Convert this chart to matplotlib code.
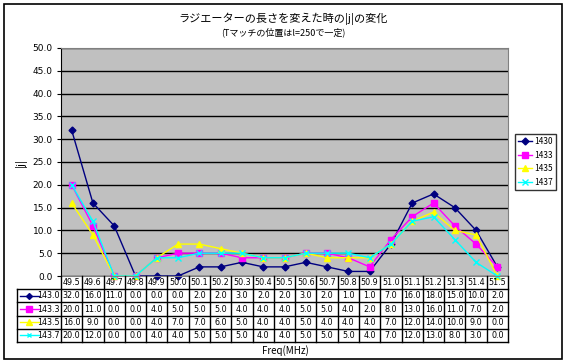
import matplotlib
matplotlib.use("Agg")
import matplotlib.pyplot as plt
from matplotlib.patches import Rectangle

plt.rcParams["font.family"] = ["Noto Sans CJK JP", "DejaVu Sans"]

freqs = ["49.5", "49.6", "49.7", "49.8", "49.9", "50.0", "50.1", "50.2", "50.3", "50.4", "50.5",
         "50.6", "50.7", "50.8", "50.9", "51.0", "51.1", "51.2", "51.3", "51.4", "51.5"]
j_1430 = [32, 16, 11, 0, 0, 0, 2, 2, 3, 2, 2, 3, 2, 1, 1, 7, 16, 18, 15, 10, 2]
j_1433 = [20, 11, 0, 0, 4, 5, 5, 5, 4, 4, 4, 5, 5, 4, 2, 8, 13, 16, 11, 7, 2]
j_1435 = [16, 9, 0, 0, 4, 7, 7, 6, 5, 4, 4, 5, 4, 4, 4, 7, 12, 14, 10, 9, 0]
j_1437 = [20, 12, 0, 0, 4, 4, 5, 5, 5, 4, 4, 5, 5, 5, 4, 7, 12, 13, 8, 3, 0]
legend_labels = ["1430", "1433", "1435", "1437"]
row_labels = ["143.0", "143.3", "143.5", "143.7"]

series = [j_1430, j_1433, j_1435, j_1437]
colors = ["#000080", "#FF00FF", "#FFFF00", "#00FFFF"]
markers = ["D", "s", "^", "x"]
msizes = [3.5, 4.5, 5, 4]

W, H = 567, 364
fig = plt.figure(figsize=(W / 100, H / 100), dpi=100)

def fx(px):
    return px / W

def fy(py):
    return 1 - py / H

# outer chart border
fig.patches.append(Rectangle((fx(4), fy(359)), fx(558), (359 - 4) / H, transform=fig.transFigure,
                             fill=False, edgecolor="black", linewidth=1.2))

left, right, top, bottom = 61, 508, 48, 276
ax = fig.add_axes([fx(left), fy(bottom), fx(right - left), (bottom - top) / H])
ax.set_facecolor("#C0C0C0")
n = len(freqs)
x = list(range(n))
lines = []
for vals, c, m, ms, lab in zip(series, colors, markers, msizes, legend_labels):
    ln, = ax.plot(x, vals, color=c, marker=m, markersize=ms, linewidth=1, label=lab,
                  markeredgewidth=1, clip_on=False)
    lines.append(ln)

ax.set_xlim(-0.5, n - 0.5)
ax.set_ylim(0, 50)
ax.set_yticks(range(0, 51, 5))
ax.set_yticklabels([f"{v:.1f}" for v in range(0, 51, 5)], fontsize=6.5, family="DejaVu Sans")
ax.set_xticks([])
ax.tick_params(axis="y", length=3, pad=3)
ax.yaxis.grid(True, color="black", linewidth=1)
ax.set_axisbelow(True)
for s in ["top", "right", "bottom"]:
    ax.spines[s].set_color("#808080")
ax.spines["left"].set_color("black")

# title
fig.text(0.5, fy(19), "ラジエーターの長さを変えた時の|j|の変化", ha="center", va="center", fontsize=8)
fig.text(0.5, fy(32), "(Tマッチの位置はl=250で一定)", ha="center", va="center", fontsize=6.5)
fig.text(fx(21), fy(162), "|j|", rotation=90, ha="center", va="center", fontsize=8)
fig.text(fx(285), fy(351), "Freq(MHz)", ha="center", va="center", fontsize=7)

leg = ax.legend(handles=lines, loc="upper left", bbox_to_anchor=(fx(515), fy(134)),
                bbox_transform=fig.transFigure, fontsize=6, frameon=True, fancybox=False,
                handlelength=1.7, handletextpad=0.3, borderpad=0.35, labelspacing=0.55,
                borderaxespad=0)
leg.get_frame().set_edgecolor("black")
leg.get_frame().set_linewidth(1)

# data table
tleft, tbottom = 17, 342
colw = (right - left) / n
tab = fig.add_axes([fx(tleft), fy(tbottom), fx(right - tleft), (tbottom - bottom) / H])
tab.set_xlim(-0.5 - (left - tleft) / colw, n - 0.5)
tab.set_ylim(5, 0)
tab.axis("off")
xl = -0.5 - (left - tleft) / colw
lk = dict(color="black", linewidth=1, clip_on=False)
# header row
for i, f in enumerate(freqs):
    tab.text(i, 0.5, f, ha="center", va="center", fontsize=5.8, family="DejaVu Sans")
for i in range(n + 1):
    tab.plot([i - 0.5, i - 0.5], [0, 5], **lk)
for r in range(1, 6):
    tab.plot([xl, n - 0.5], [r, r], **lk)
tab.plot([xl, xl], [1, 5], **lk)
for r, (vals, c, m, ms, lab) in enumerate(zip(series, colors, markers, msizes, row_labels)):
    yr = r + 1.5
    tab.plot([xl + 0.12, xl + 1.05], [yr, yr], color=c, linewidth=1)
    tab.plot([xl + 0.58], [yr], color=c, marker=m, markersize=ms - 0.5, markeredgewidth=1)
    tab.text(-0.58, yr, lab, ha="right", va="center", fontsize=5.8, family="DejaVu Sans")
    for i, v in enumerate(vals):
        tab.text(i, yr, f"{v:.1f}", ha="center", va="center", fontsize=5.8, family="DejaVu Sans")

fig.savefig("out.png", dpi=100)
